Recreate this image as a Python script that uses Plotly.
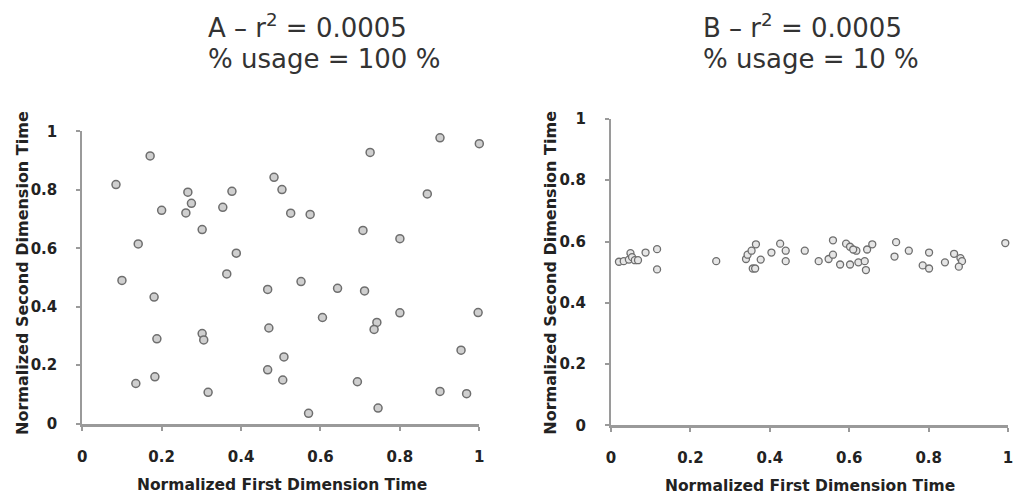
import plotly.graph_objects as go

# ---------------- data ----------------
a_x = [0.901, 1.000, 0.171, 0.725, 0.085, 0.483, 0.503, 0.266, 0.377, 0.275,
       0.200, 0.261, 0.354, 0.525, 0.574, 0.869, 0.302, 0.707, 0.800, 0.141,
       0.388, 0.364, 0.100, 0.551, 0.181, 0.467, 0.643, 0.711, 0.605, 0.800,
       0.997, 0.742, 0.735, 0.470, 0.302, 0.306, 0.188, 0.954, 0.508, 0.467,
       0.505, 0.693, 0.183, 0.135, 0.317, 0.901, 0.968, 0.745, 0.570]
a_y = [0.978, 0.958, 0.916, 0.928, 0.818, 0.843, 0.801, 0.792, 0.795, 0.754,
       0.730, 0.721, 0.740, 0.720, 0.716, 0.786, 0.664, 0.661, 0.633, 0.615,
       0.583, 0.512, 0.490, 0.486, 0.433, 0.459, 0.463, 0.454, 0.363, 0.379,
       0.380, 0.346, 0.322, 0.327, 0.308, 0.286, 0.290, 0.251, 0.228, 0.184,
       0.149, 0.143, 0.160, 0.137, 0.107, 0.110, 0.102, 0.053, 0.035]

b_x = [0.020, 0.032, 0.045, 0.049, 0.053, 0.060, 0.068, 0.087, 0.116, 0.116,
       0.265, 0.340, 0.344, 0.354, 0.365, 0.357, 0.377, 0.404, 0.426, 0.440,
       0.440, 0.488, 0.523, 0.548, 0.559, 0.559, 0.592, 0.602, 0.618, 0.610,
       0.645, 0.658, 0.577, 0.602, 0.623, 0.639, 0.642, 0.718, 0.714, 0.750,
       0.801, 0.785, 0.801, 0.841, 0.864, 0.880, 0.884, 0.876, 0.993, 0.363]
b_y = [0.534, 0.536, 0.541, 0.562, 0.549, 0.539, 0.539, 0.564, 0.575, 0.509,
       0.536, 0.543, 0.557, 0.570, 0.591, 0.512, 0.541, 0.564, 0.593, 0.570,
       0.536, 0.570, 0.536, 0.543, 0.557, 0.604, 0.593, 0.583, 0.570, 0.574,
       0.574, 0.591, 0.525, 0.525, 0.532, 0.536, 0.507, 0.598, 0.551, 0.570,
       0.564, 0.522, 0.512, 0.532, 0.560, 0.546, 0.536, 0.518, 0.595, 0.512]

tick_vals = [0, 0.2, 0.4, 0.6, 0.8, 1]
tick_text = ["0", "0.2", "0.4", "0.6", "0.8", "1"]

title_a = ["A \u2013 r<sup>2</sup> = 0.0005", "% usage = 100 %"]
title_b = ["B \u2013 r<sup>2</sup> = 0.0005", "% usage = 10 %"]
x_title = "Normalized First Dimension Time"
y_title = "Normalized Second Dimension Time"

FONT = "DejaVu Sans"
W, H = 1021, 500

fig = go.Figure()

marker = dict(symbol="circle", size=8, color="#cfcfcf",
              line=dict(color="#6e6e6e", width=1.5))
fig.add_trace(go.Scatter(x=a_x, y=a_y, mode="markers", marker=marker,
                         xaxis="x", yaxis="y", cliponaxis=False, showlegend=False))
marker_b = dict(symbol="circle", size=7, color="#e6e6e6",
                line=dict(color="#6e6e6e", width=1.3))
fig.add_trace(go.Scatter(x=b_x, y=b_y, mode="markers", marker=marker_b,
                         xaxis="x2", yaxis="y2", cliponaxis=False, showlegend=False))

TICKFONT = dict(family="DejaVu Sans, sans-serif", size=15, color="#222", weight="bold")

def xax(domain, anchor):
    return dict(domain=domain, anchor=anchor, range=[0, 1], showgrid=False,
                zeroline=False, showline=True, linecolor="#9a9a9a", linewidth=3,
                ticks="outside", ticklen=4, tickwidth=1.5, tickcolor="#9a9a9a",
                tickmode="array", tickvals=tick_vals, ticktext=tick_text,
                ticklabelstandoff=13, tickfont=TICKFONT)

def yax(domain, anchor):
    return dict(domain=domain, anchor=anchor, range=[0, 1], showgrid=False,
                zeroline=False, showline=True, linecolor="#9a9a9a", linewidth=2,
                ticks="outside", ticklen=4, tickwidth=1.5, tickcolor="#9a9a9a",
                tickmode="array", tickvals=tick_vals, ticktext=tick_text,
                ticklabelstandoff=16, tickfont=TICKFONT)

ann = []
def label(text, x, y, size, rot=0, bold=True, xanchor="center", color="#222"):
    ann.append(dict(text=text, x=x / W, y=1 - y / H, xref="paper", yref="paper",
                    xanchor=xanchor, yanchor="middle", showarrow=False, textangle=rot,
                    font=dict(family=FONT, size=size, color=color,
                              weight="bold" if bold else "normal")))

# panel titles
label(title_a[0], 203, 18, 26, bold=False, xanchor="left", color="#333")
label(title_a[1], 203, 52, 26, bold=False, xanchor="left", color="#333")
label(title_b[0], 703, 18, 26, bold=False, xanchor="left", color="#333")
label(title_b[1], 703, 52, 26, bold=False, xanchor="left", color="#333")
# axis titles
label(x_title, 280, 494, 15.5)
label(x_title, 813, 495, 15.5)
label(y_title, 17, 274, 16, rot=-90)
label(y_title, 551, 274, 16, rot=-90)

fig.update_layout(
    width=W, height=H, margin=dict(l=0, r=0, t=0, b=0),
    paper_bgcolor="white", plot_bgcolor="white",
    xaxis=xax([78 / W, 479 / W], "y"),
    yaxis=yax([1 - 430 / H, 1 - 127 / H], "x"),
    xaxis2=xax([612 / W, 1013 / W], "y2"),
    yaxis2=yax([1 - 432 / H, 1 - 114 / H], "x2"),
    annotations=ann,
    font=dict(family=FONT),
)

fig.write_html("out.html")
